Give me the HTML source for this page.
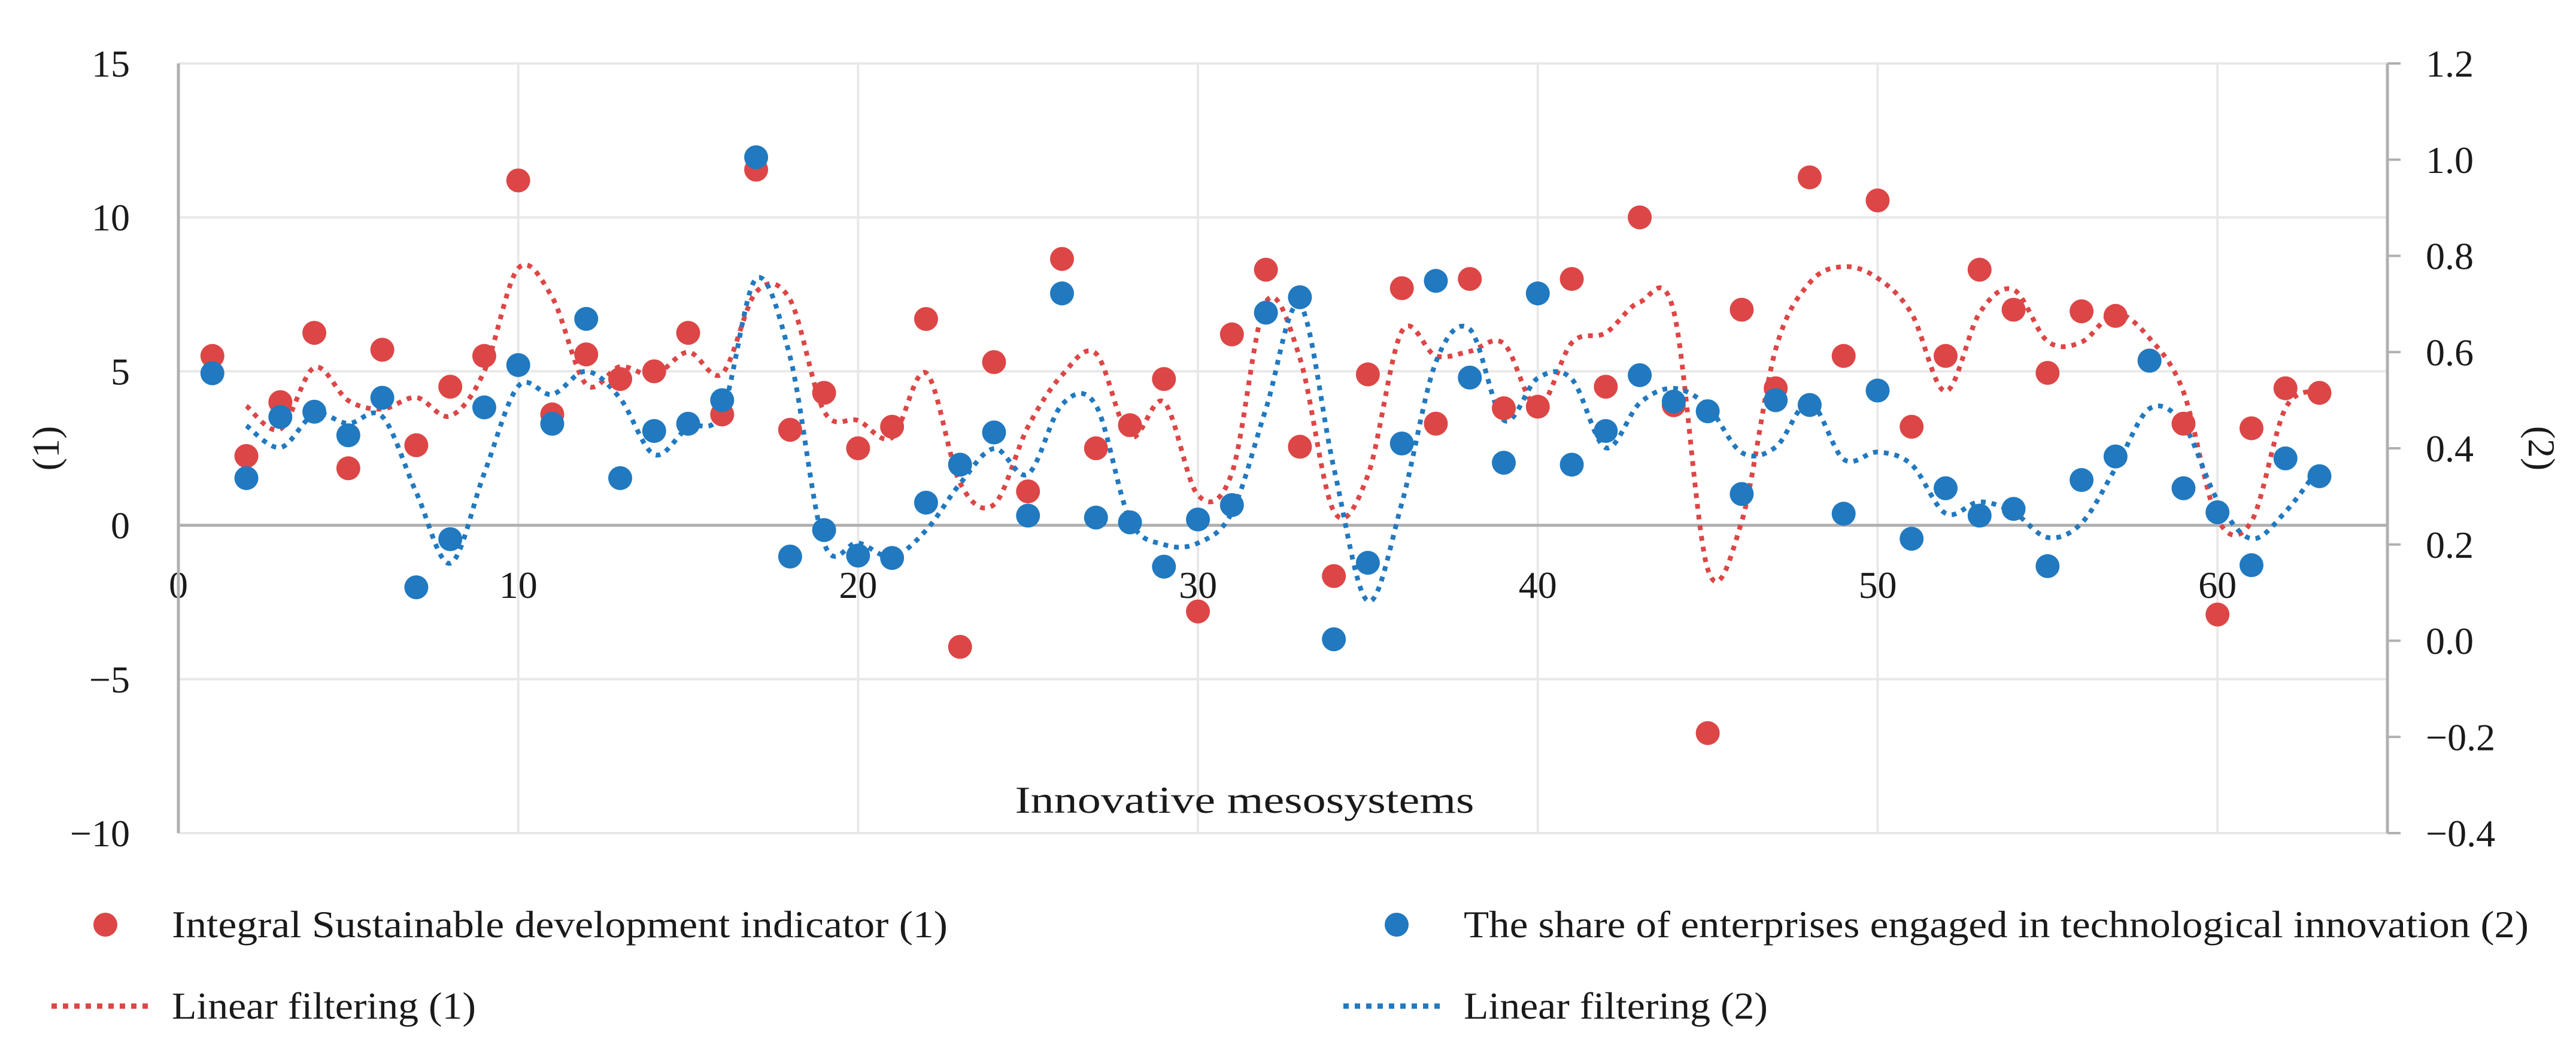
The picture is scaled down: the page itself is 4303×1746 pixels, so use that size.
<!DOCTYPE html>
<html><head><meta charset="utf-8"><title>Chart</title>
<style>
html,body{margin:0;padding:0;background:#fff;}
svg{display:block;}
text{font-family:"Liberation Serif",serif;fill:#1a1a1a;}
</style></head>
<body>
<svg id="chart" width="4303" height="1746" viewBox="0 0 4303 1746" xmlns="http://www.w3.org/2000/svg">
<g id="grid"></g>
<g id="axes"></g>
<g id="lines"></g>
<g id="points"></g>
<text x="2079" y="1358" font-size="64" text-anchor="middle" textLength="767" lengthAdjust="spacingAndGlyphs">Innovative mesosystems</text>
<text transform="translate(98,749) rotate(-90)" font-size="64" text-anchor="middle">(1)</text>
<text transform="translate(4224,749) rotate(90)" font-size="64" text-anchor="middle">(2)</text>
<g>
  <circle cx="176" cy="1545" r="20" fill="#DD4646"/>
  <text x="287" y="1566" font-size="64" textLength="1296" lengthAdjust="spacingAndGlyphs">Integral Sustainable development indicator (1)</text>
  <circle cx="2333" cy="1545" r="20" fill="#2179C0"/>
  <text x="2445" y="1566" font-size="64" textLength="1779" lengthAdjust="spacingAndGlyphs">The share of enterprises engaged in technological innovation (2)</text>
  <line x1="86" y1="1681" x2="256" y2="1681" stroke="#DD4646" stroke-width="9" stroke-dasharray="9 10"/>
  <text x="287" y="1702" font-size="64" textLength="508" lengthAdjust="spacingAndGlyphs">Linear filtering (1)</text>
  <line x1="2244" y1="1681" x2="2413" y2="1681" stroke="#2179C0" stroke-width="9" stroke-dasharray="9 10"/>
  <text x="2445" y="1702" font-size="64" textLength="508" lengthAdjust="spacingAndGlyphs">Linear filtering (2)</text>
</g>
</svg>
<script>
const redValues = [5.5,2.25,4.0,6.25,1.85,5.7,2.6,4.5,5.5,11.2,3.6,5.55,4.75,5.0,6.25,3.6,11.55,3.1,4.3,2.5,3.2,6.7,-3.95,5.3,1.1,8.65,2.5,3.25,4.75,-2.8,6.2,8.3,2.55,-1.65,4.9,7.7,3.3,8.0,3.8,3.85,8.0,4.5,10.0,3.9,-6.75,7.0,4.45,11.3,5.5,10.55,3.2,5.5,8.3,7.0,4.95,6.95,6.8,5.35,3.3,-2.9,3.15,4.45,4.3];
const blueValues = [0.556,0.338,0.465,0.476,0.427,0.505,0.111,0.211,0.485,0.573,0.451,0.669,0.338,0.436,0.451,0.5,1.005,0.175,0.23,0.177,0.172,0.287,0.366,0.433,0.26,0.722,0.256,0.246,0.154,0.252,0.282,0.682,0.714,0.003,0.162,0.41,0.748,0.547,0.37,0.722,0.366,0.436,0.552,0.497,0.477,0.305,0.5,0.49,0.264,0.52,0.212,0.317,0.26,0.274,0.155,0.334,0.383,0.582,0.317,0.267,0.157,0.379,0.342];
const xTicks = [0,10,20,30,40,50,60];
const leftTicks = [15,10,5,0,-5,-10];
const leftTickLabels = ["15","10","5","0","\u22125","\u221210"];
const rightTicks = [1.2,1.0,0.8,0.6,0.4,0.2,0.0,-0.2,-0.4];
const rightTickLabels = ["1.2","1.0","0.8","0.6","0.4","0.2","0.0","\u22120.2","\u22120.4"];

const NS="http://www.w3.org/2000/svg";
const X0=298, X1=3988, XMAX=65, YT=106, YB=1392;
const xs = v => X0 + v*(X1-X0)/XMAX;
const yl = v => YT + (15-v)*(YB-YT)/25;
const yr = v => YT + (1.2-v)*(YB-YT)/1.6;
function mk(tag, parent, attrs){const e=document.createElementNS(NS,tag);for(const k in attrs)e.setAttribute(k,attrs[k]);parent.appendChild(e);return e;}
const grid=document.getElementById('grid'), axes=document.getElementById('axes'), lines=document.getElementById('lines'), pts=document.getElementById('points');

leftTicks.forEach((t,i)=>{
  if(t!==0){const g=mk('line',grid,{x1:X0,x2:X1,y1:yl(t),y2:yl(t),stroke:'#e8e8e8','stroke-width':4});
  
  }
  const tx=mk('text',axes,{x:217,y:yl(t)+22,'font-size':64,'text-anchor':'end'});
  
  
  tx.textContent=leftTickLabels[i];
});
xTicks.forEach(t=>{
  if(t!==0){const g=mk('line',grid,{x1:xs(t),x2:xs(t),y1:YT,y2:YB,stroke:'#e8e8e8','stroke-width':4});
  
  }
  const tx=mk('text',axes,{x:xs(t),y:999,'font-size':64,'text-anchor':'middle'});
  
  
  tx.textContent=String(t);
});
const la=mk('line',axes,{x1:X0,x2:X0,y1:YT,y2:YB,stroke:'#b0b0b0','stroke-width':5});


const za=mk('line',axes,{x1:X0,x2:X1,y1:yl(0),y2:yl(0),stroke:'#b0b0b0','stroke-width':5});


const ra=mk('line',axes,{x1:X1,x2:X1,y1:YT,y2:YB,stroke:'#b0b0b0','stroke-width':5});


rightTicks.forEach((t,i)=>{
  const tk=mk('line',axes,{x1:X1,x2:X1+22,y1:yr(t),y2:yr(t),stroke:'#b0b0b0','stroke-width':4});
  
  
  const tx=mk('text',axes,{x:4052,y:yr(t)+22,'font-size':64});
  
  
  tx.textContent=rightTickLabels[i];
});

function movingAvg(a){const r=[];for(let i=1;i<a.length;i++)r.push([i+1,(a[i]+a[i-1])/2]);return r;}
function smoothPath(p){
  let d='M'+p[0][0].toFixed(1)+','+p[0][1].toFixed(1);
  for(let i=0;i<p.length-1;i++){
    const p0=p[Math.max(0,i-1)],p1=p[i],p2=p[i+1],p3=p[Math.min(p.length-1,i+2)];
    const c1x=p1[0]+(p2[0]-p0[0])/6,c1y=p1[1]+(p2[1]-p0[1])/6;
    const c2x=p2[0]-(p3[0]-p1[0])/6,c2y=p2[1]-(p3[1]-p1[1])/6;
    d+=' C'+c1x.toFixed(1)+','+c1y.toFixed(1)+' '+c2x.toFixed(1)+','+c2y.toFixed(1)+' '+p2[0].toFixed(1)+','+p2[1].toFixed(1);
  }
  return d;
}
const redMA=movingAvg(redValues).map(([i,v])=>[xs(i),yl(v)]);
const blueMA=movingAvg(blueValues).map(([i,v])=>[xs(i),yr(v)]);
const rl=mk('path',lines,{d:smoothPath(redMA),fill:'none',stroke:'#DD4646','stroke-width':8,'stroke-dasharray':'8 10'});


const bl=mk('path',lines,{d:smoothPath(blueMA),fill:'none',stroke:'#2179C0','stroke-width':8,'stroke-dasharray':'8 10'});



redValues.forEach((v,i)=>{
  const c=mk('circle',pts,{cx:xs(i+1),cy:yl(v),r:20,fill:'#DD4646'});
  
  
});
blueValues.forEach((v,i)=>{
  const c=mk('circle',pts,{cx:xs(i+1),cy:yr(v),r:20,fill:'#2179C0'});
  
  
});
</script>
</body></html>
